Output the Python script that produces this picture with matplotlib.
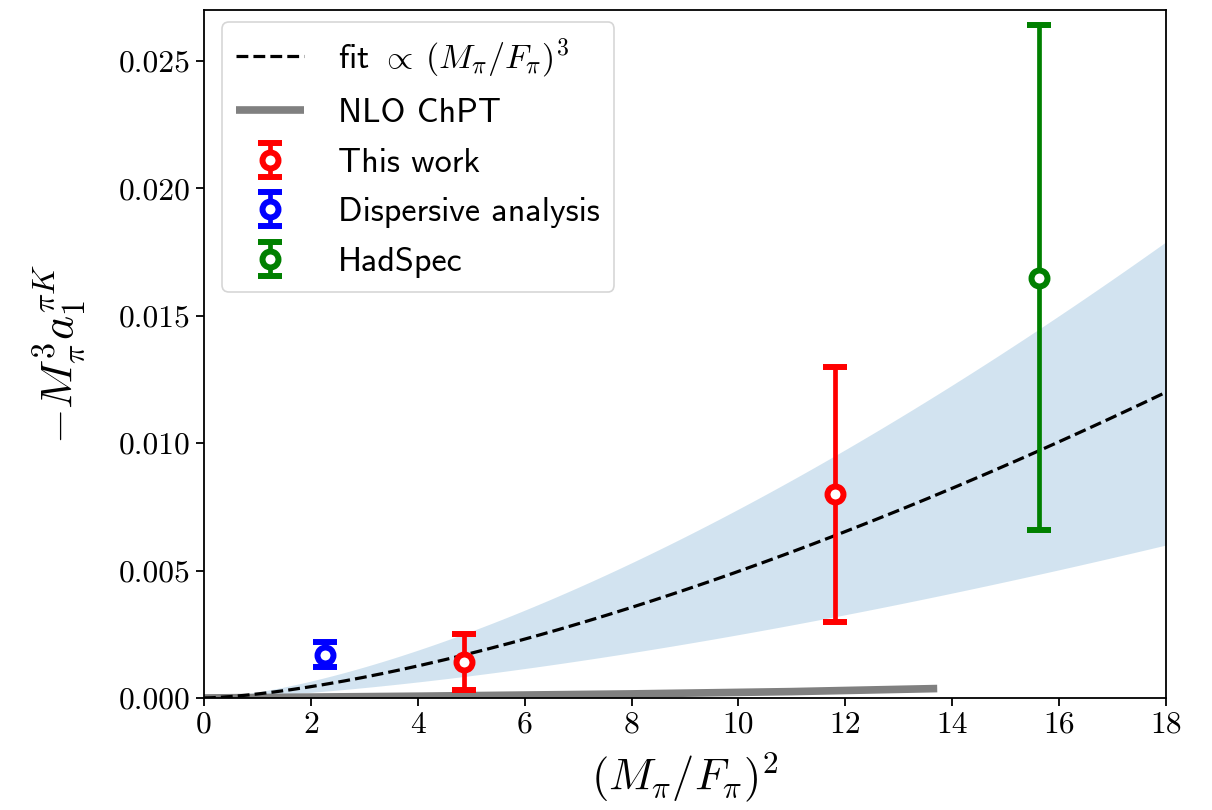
import numpy as np
import matplotlib
matplotlib.use("Agg")
import matplotlib.pyplot as plt

# ---- data ----
this_x = [4.87, 11.8]
this_y = [0.0014, 0.0080]
this_err = [0.0011, 0.0050]

disp_x = [2.27]
disp_y = [0.0017]
disp_err = [0.0005]

had_x = [15.62]
had_y = [0.0165]
had_err = [0.0099]

# fit  y = c * x^(3/2)   (i.e. proportional to (M_pi/F_pi)^3)
fit_coef = 1.571e-4
fit_coef_lo = 7.86e-5
fit_coef_hi = 2.344e-4
fit_xmax = 18.0

nlo_x = [0.0, 4.0, 8.0, 11.0, 13.72]
nlo_y = [0.0, 0.00007, 0.00016, 0.00025, 0.00037]

xticks = [0, 2, 4, 6, 8, 10, 12, 14, 16, 18]
yticks = [0.000, 0.005, 0.010, 0.015, 0.020, 0.025]

# ---- style ----
plt.rcParams['mathtext.fontset'] = 'cm'
plt.rcParams['axes.formatter.use_mathtext'] = True

fig = plt.figure(figsize=(12.12, 8.1), dpi=100)
ax = fig.add_axes([0.1683, 0.1383, 0.962 - 0.1683, 0.9877 - 0.1383])

xs = np.linspace(0, fit_xmax, 400)
ax.fill_between(xs, fit_coef_lo * xs**1.5, fit_coef_hi * xs**1.5,
                color='C0', alpha=0.2, linewidth=0)
ax.plot(xs, fit_coef * xs**1.5, 'k--', lw=2.3,
        label=r'fit $\propto\:(M_\pi/F_\pi)^3$', zorder=3)
ax.plot(nlo_x, nlo_y, color='gray', lw=5.5, solid_capstyle='butt',
        label='NLO ChPT', zorder=2)

ekw = dict(fmt='o', ms=11.5, mfc='white', mew=4.3, elinewidth=3.4,
           capsize=8.6, capthick=3.6, zorder=4)
ax.errorbar(this_x, this_y, yerr=this_err, color='red', label='This work', **ekw)
ax.errorbar(disp_x, disp_y, yerr=disp_err, color='blue',
            label='Dispersive analysis', **ekw)
ax.errorbar(had_x, had_y, yerr=had_err, color='green', label='HadSpec', **ekw)

ax.set_xlim(0, 18)
ax.set_ylim(0, 0.027)
ax.set_xticks(xticks)
ax.set_yticks(yticks)
ax.set_xticklabels([str(t) for t in xticks], fontfamily='cmr10', fontsize=22.7)
ax.set_yticklabels([f'{t:.3f}' for t in yticks], fontfamily='cmr10', fontsize=22.7)
ax.tick_params(length=6, width=1.3)
for s in ax.spines.values():
    s.set_linewidth(1.3)

ax.set_xlabel(r'$(M_\pi/F_\pi)^2$', fontsize=32, labelpad=8)
ax.set_ylabel(r'$-M_\pi^3 a_1^{\pi K}$', fontsize=33, labelpad=22)

leg = ax.legend(loc='upper left', bbox_to_anchor=(0.0187, 0.9826),
                borderaxespad=0.0, prop={'family': 'cmss10', 'size': 24.5},
                framealpha=0.8, handletextpad=1.0, labelspacing=0.55,
                borderpad=0.42)
leg.get_frame().set_linewidth(1.2)

fig.savefig('out.png', dpi=100)
